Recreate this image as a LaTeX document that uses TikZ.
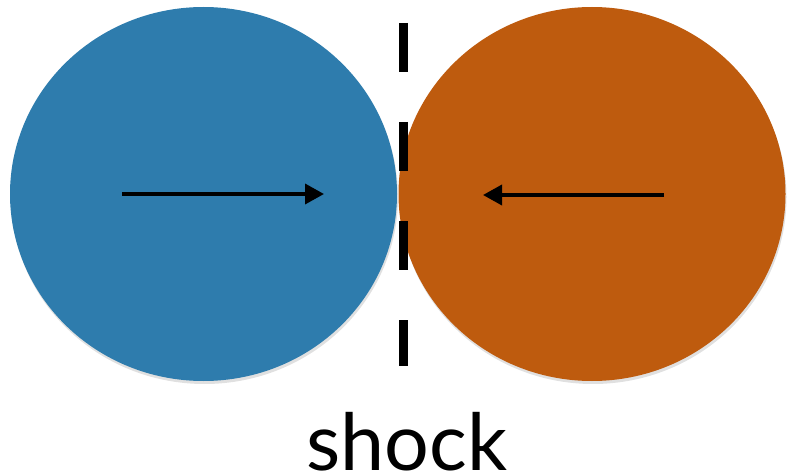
\documentclass[tikz,border=0pt]{standalone}
\usepackage{fontspec}
\setmainfont{Lato}
\usetikzlibrary{shapes.geometric,arrows.meta}
\definecolor{ballblue}{RGB}{46,124,173}
\definecolor{ballorange}{RGB}{190,91,14}
\tikzset{
  ball/.style={ellipse, inner sep=0pt, minimum width=387pt, minimum height=374pt, draw=none},
  ballshadow/.style={ellipse, inner sep=0pt, minimum width=387pt, minimum height=374pt, fill=black, opacity=0.12, draw=none},
  flow/.style={line width=3.6pt, -{Triangle[length=19pt,width=20pt]}},
  shockline/.style={line width=9pt, dash pattern=on 49pt off 50pt}
}
\begin{document}
\begin{tikzpicture}[x=1pt,y=-1pt]
  \useasboundingbox (0,0) rectangle (787,476);
  \node[ballshadow] (LS) at (204.5,197) {};
  \node[ball, fill=ballblue] (L) at (203.5,194) {};
  \node[ballshadow] (RS) at (593,197) {};
  \node[ball, fill=ballorange] (R) at (592,194) {};
  \coordinate (la) at (122,194);
  \coordinate (lb) at (324,194);
  \coordinate (ra) at (664,195);
  \coordinate (rb) at (483,195);
  \draw[flow] (la) -- (lb);
  \draw[flow] (ra) -- (rb);
  \coordinate (s1) at (403.5,23);
  \coordinate (s2) at (403.5,366);
  \draw[shockline] (s1) -- (s2);
  \node[anchor=base, inner sep=0pt, font=\fontsize{79}{86}\selectfont] (lbl) at (407,470) {shock};
\end{tikzpicture}
\end{document}
